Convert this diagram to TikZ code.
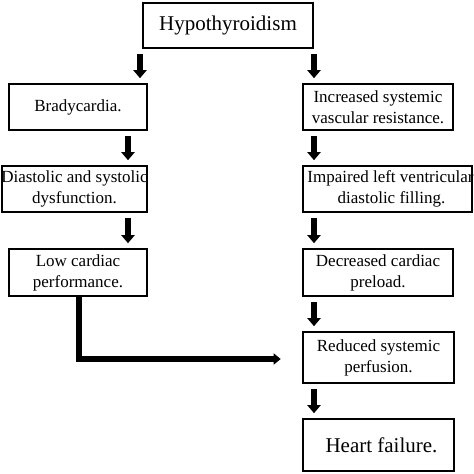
\documentclass[tikz,border=0pt]{standalone}
\usepackage{fontspec}
\setmainfont{Liberation Serif}
\usetikzlibrary{arrows.meta}
\begin{document}
\begin{tikzpicture}[x=1pt,y=-1pt,
  box/.style={draw=black, line width=2.6pt, rectangle, inner sep=0pt, align=center,
    font=\fontsize{17}{21}\selectfont},
  bigbox/.style={box, font=\fontsize{21}{25}\selectfont},
  downarrow/.style={line width=5.5pt, -{Triangle[width=13pt,length=8pt]},
    shorten <=4.5pt, shorten >=4.5pt},
  sidearrow/.style={line width=6pt, line join=miter, -{Triangle[width=11pt,length=7pt]}}
]
\useasboundingbox (0,0) rectangle (474,474);
\fill[white] (0,0) rectangle (474,474);

\node[bigbox, minimum width=170pt, minimum height=45pt] (hypo) at (228,25.5) {\makebox[0pt]{Hypothyroidism}};

\node[box, minimum width=138pt, minimum height=46pt] (brady) at (78,107) {\makebox[0pt]{Bradycardia.}};
\node[box, minimum width=150pt, minimum height=46pt] (incr) at (378,107)
  {\makebox[0pt]{Increased systemic}\\\makebox[0pt]{vascular resistance.}};

\node[box, minimum width=145pt, minimum height=46pt] (diast) at (74.5,189)
  {\makebox[0pt]{Diastolic and systolic}\\\makebox[0pt]{dysfunction.}};
\node[box, minimum width=169pt, minimum height=46pt] (impair) at (387.5,189)
  {\makebox[0pt]{\hspace{6pt}Impaired left ventricular}\\\makebox[0pt]{\hspace{8pt}diastolic filling.}};

\node[box, minimum width=138pt, minimum height=47pt] (low) at (78,272.5)
  {\makebox[0pt]{Low cardiac}\\\makebox[0pt]{performance.}};
\node[box, minimum width=150pt, minimum height=47pt] (decr) at (378,272.5)
  {\makebox[0pt]{Decreased cardiac}\\\makebox[0pt]{preload.}};

\node[box, minimum width=151pt, minimum height=51pt] (reduced) at (378.5,357.5)
  {\makebox[0pt]{Reduced systemic}\\\makebox[0pt]{perfusion.}};
\node[bigbox, minimum width=151pt, minimum height=52pt] (heart) at (378.5,445)
  {\makebox[0pt]{\hspace{6pt}Heart failure.}};

\coordinate (xa) at (140,0);
\coordinate (xb) at (128,0);
\coordinate (xr) at (314,0);
\coordinate (xc) at (78.5,0);
\coordinate (turn) at (78.5,359);

\draw[downarrow] (hypo.south -| xa) -- (brady.north -| xa);
\draw[downarrow] (brady.south -| xb) -- (diast.north -| xb);
\draw[downarrow] (diast.south -| xb) -- (low.north -| xb);

\draw[downarrow] (hypo.south -| xr) -- (incr.north -| xr);
\draw[downarrow] (incr.south -| xr) -- (impair.north -| xr);
\draw[downarrow] (impair.south -| xr) -- (decr.north -| xr);
\draw[downarrow] (decr.south -| xr) -- (reduced.north -| xr);
\draw[downarrow] (reduced.south -| xr) -- (heart.north -| xr);

\draw[sidearrow, shorten >=21pt] (low.south -| xc) -- (turn) -- (turn -| reduced.west);
\end{tikzpicture}
\end{document}
